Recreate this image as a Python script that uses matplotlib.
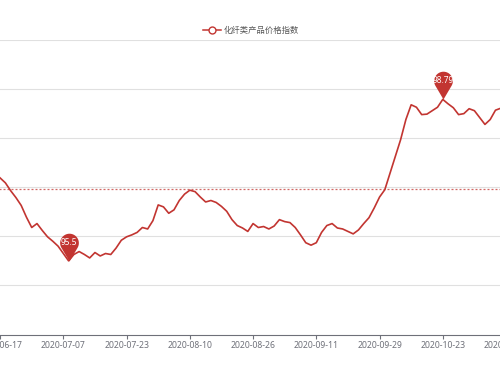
import numpy as np
import matplotlib
matplotlib.use('Agg')
import matplotlib.pyplot as plt
from matplotlib.path import Path
from matplotlib.lines import Line2D

# ---------------- data ----------------
series_name = '化纤类产品价格指数'
values = [
    97.19, 97.09, 96.93, 96.79, 96.63, 96.39, 96.18, 96.26, 96.12, 95.99,
    95.90, 95.80, 95.65, 95.50, 95.63, 95.69, 95.63, 95.56, 95.67, 95.60,
    95.65, 95.63, 95.76, 95.92, 95.99, 96.03, 96.08, 96.18, 96.15, 96.32,
    96.64, 96.60, 96.47, 96.54, 96.73, 96.86, 96.94, 96.91, 96.80, 96.70,
    96.73, 96.69, 96.61, 96.51, 96.34, 96.22, 96.17, 96.10, 96.26, 96.18,
    96.20, 96.15, 96.21, 96.34, 96.30, 96.28, 96.18, 96.03, 95.87, 95.82,
    95.87, 96.08, 96.22, 96.26, 96.17, 96.15, 96.10, 96.05, 96.13, 96.26,
    96.38, 96.58, 96.80, 96.95, 97.29, 97.63, 97.97, 98.38, 98.68, 98.63,
    98.48, 98.49, 98.56, 98.63, 98.79, 98.70, 98.62, 98.48, 98.50, 98.60,
    98.56, 98.42, 98.28, 98.38, 98.57, 98.61,
]
tick_positions = [0, 12, 24, 36, 48, 60, 72, 84, 96]
tick_labels = ['2020-06-17', '2020-07-07', '2020-07-23', '2020-08-10',
               '2020-08-26', '2020-09-11', '2020-09-29', '2020-10-23',
               '2020-11-10']
avg_value = 96.97
y_ticks = [94, 95, 96, 97, 98, 99, 100]

# ---------------- style ----------------
RED = '#c23531'
GRID = '#e0e0e0'
AXIS = '#6e7079'
LABEL = '#6e7079'
W, H = 500, 375

fig = plt.figure(figsize=(W / 100, H / 100), dpi=100)
PX = 5.27      # pixels per category
X0 = 0.1       # pixel of category 0
xmin, xmax = -2, 100
left_px = X0 + xmin * PX
width_px = (xmax - xmin) * PX
top_px, bottom_px = 40, 334.5
ax = fig.add_axes([left_px / W, (H - bottom_px) / H,
                   width_px / W, (bottom_px - top_px) / H])
ax.set_xlim(xmin, xmax)
ax.set_ylim(y_ticks[0], y_ticks[-1])

for s in ['left', 'right', 'top']:
    ax.spines[s].set_visible(False)
ax.spines['bottom'].set_color(AXIS)
ax.spines['bottom'].set_linewidth(0.8)

ax.set_yticks(y_ticks)
ax.tick_params(axis='y', left=False, labelleft=False)
for yv in y_ticks[1:]:
    ax.axhline(yv, color=GRID, lw=0.8, zorder=1)

ax.set_xticks(tick_positions)
ax.set_xticklabels(tick_labels, fontsize=6.2, color=LABEL,
                   family=['Noto Sans', 'DejaVu Sans'])
ax.tick_params(axis='x', length=3, width=0.8, color=AXIS, pad=1.8)

x = np.arange(len(values))
ax.plot(x, values, color=RED, lw=1.2, zorder=3, solid_joinstyle='round')

# average mark line
ax.axhline(avg_value, color=RED, lw=0.9, alpha=0.75, ls=(0, (1.6, 1.6)), zorder=2)

# pins for max / min
theta = np.linspace(np.radians(-30), np.radians(210), 48)
cx, cy, r = 0.0, 0.65, 0.33
verts = [(0.0, 0.0)] + [(cx + r * np.cos(t), cy + r * np.sin(t)) for t in theta] + [(0.0, 0.0)]
pin = Path(verts, closed=True)
vals = np.array(values)
for idx in [int(np.argmax(vals)), int(np.argmin(vals))]:
    v = values[idx]
    ax.plot([idx], [v], marker=pin, markersize=40, color=RED, mec=RED,
            mew=0, zorder=5, clip_on=False)
    ax.annotate(f'{v:g}', xy=(idx, v), xytext=(0, 13.4),
                textcoords='offset points', ha='center', va='center',
                color='white', fontsize=6.0, zorder=6,
                family=['Noto Sans', 'DejaVu Sans'])

# legend
ly = 1 - 30 / H
fig.add_artist(Line2D([203 / W, 221 / W], [ly, ly], transform=fig.transFigure,
                      color=RED, lw=1.1))
fig.add_artist(Line2D([212 / W], [ly], transform=fig.transFigure, marker='o',
                      markersize=5, mfc='white', mec=RED, mew=1.0, lw=0))
fig.text(224 / W, ly, series_name, fontsize=6, color='#555555', va='center',
         ha='left', family=['Noto Sans CJK SC', 'DejaVu Sans'])

fig.savefig('out.png', dpi=100)
